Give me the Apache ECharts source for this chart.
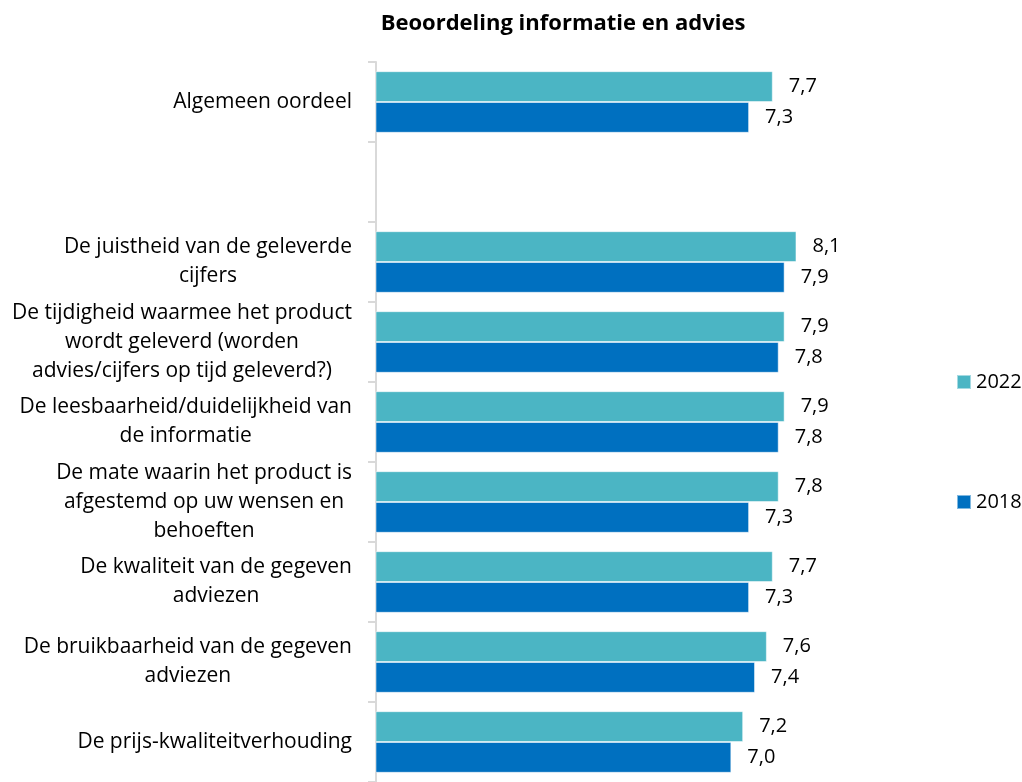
<!DOCTYPE html>
<html>
<head>
<meta charset="utf-8">
<script src="https://cdn.jsdelivr.net/npm/echarts@6/dist/echarts.min.js"></script>
<style>
html,body{margin:0;padding:0;background:#fff;}
#c{width:1022px;height:782px;}
</style>
</head>
<body>
<div id="c"></div>
<script>
const categories = [
  "Algemeen oordeel",
  "",
  "De juistheid van de geleverde\ncijfers",
  "De tijdigheid waarmee het product\nwordt geleverd (worden\nadvies/cijfers op tijd geleverd?)",
  "De leesbaarheid/duidelijkheid van\nde informatie",
  "De mate waarin het product is\nafgestemd op uw wensen en\nbehoeften",
  "De kwaliteit van de gegeven\nadviezen",
  "De bruikbaarheid van de gegeven\nadviezen",
  "De prijs-kwaliteitverhouding"
];
const values2022 = [7.7, null, 8.1, 7.9, 7.9, 7.8, 7.7, 7.6, 7.2];
const values2018 = [7.3, null, 7.9, 7.8, 7.8, 7.3, 7.3, 7.4, 7.0];
const seriesNames = ["2022", "2018"];

const FONT = "Open Sans";
const FS = 21;
const VFS = 20;
const chart = echarts.init(document.getElementById('c'));
const fmt = p => (p.value == null ? '' : p.value.toFixed(1).replace('.', ','));

chart.setOption({
  animation: false,
  textStyle: {fontFamily: FONT},
  title: {
    text: "Beoordeling informatie en advies",
    left: 558, top: 8, textAlign: 'center',
    textStyle: {fontFamily: FONT, fontWeight: 'bold', fontSize: 22, color: '#000'}
  },
  legend: {
    orient: 'vertical',
    left: 951, top: 367,
    itemWidth: 14, itemHeight: 14, itemGap: 100,
    icon: 'rect',
    textStyle: {fontFamily: FONT, fontSize: VFS, color: '#000'},
    data: seriesNames
  },
  grid: {left: 376, top: 62, right: 113, bottom: -4.5},
  xAxis: {
    type: 'value', min: 1, max: 10,
    show: false
  },
  yAxis: {
    type: 'category', inverse: true,
    data: categories,
    axisLine: {show: true, lineStyle: {color: '#D9D9D9', width: 2}},
    axisTick: {show: true, length: 8, lineStyle: {color: '#D9D9D9', width: 2}},
    axisLabel: {
      margin: 24, align: 'right',
      fontFamily: FONT, fontSize: FS, color: '#000', lineHeight: 29,
      formatter: v => v.split('\n').map(s => '{c|' + s + '}').join('\n'),
      rich: {c: {align: 'center', fontFamily: FONT, fontSize: FS, lineHeight: 29, color: '#000'}}
    }
  },
  series: [
    {
      name: seriesNames[0], type: 'bar', data: values2022,
      barGap: '0%', barCategoryGap: '23%',
      itemStyle: {color: '#4BB5C4', borderColor: 'rgba(255,255,255,0.5)', borderWidth: 1},
      label: {show: true, position: 'right', distance: 16, formatter: fmt,
              fontFamily: FONT, fontSize: VFS, color: '#000'}
    },
    {
      name: seriesNames[1], type: 'bar', data: values2018,
      barGap: '0%', barCategoryGap: '23%',
      itemStyle: {color: '#0070C0', borderColor: 'rgba(255,255,255,0.5)', borderWidth: 1},
      label: {show: true, position: 'right', distance: 16, formatter: fmt,
              fontFamily: FONT, fontSize: VFS, color: '#000'}
    }
  ]
});
</script>
</body>
</html>
